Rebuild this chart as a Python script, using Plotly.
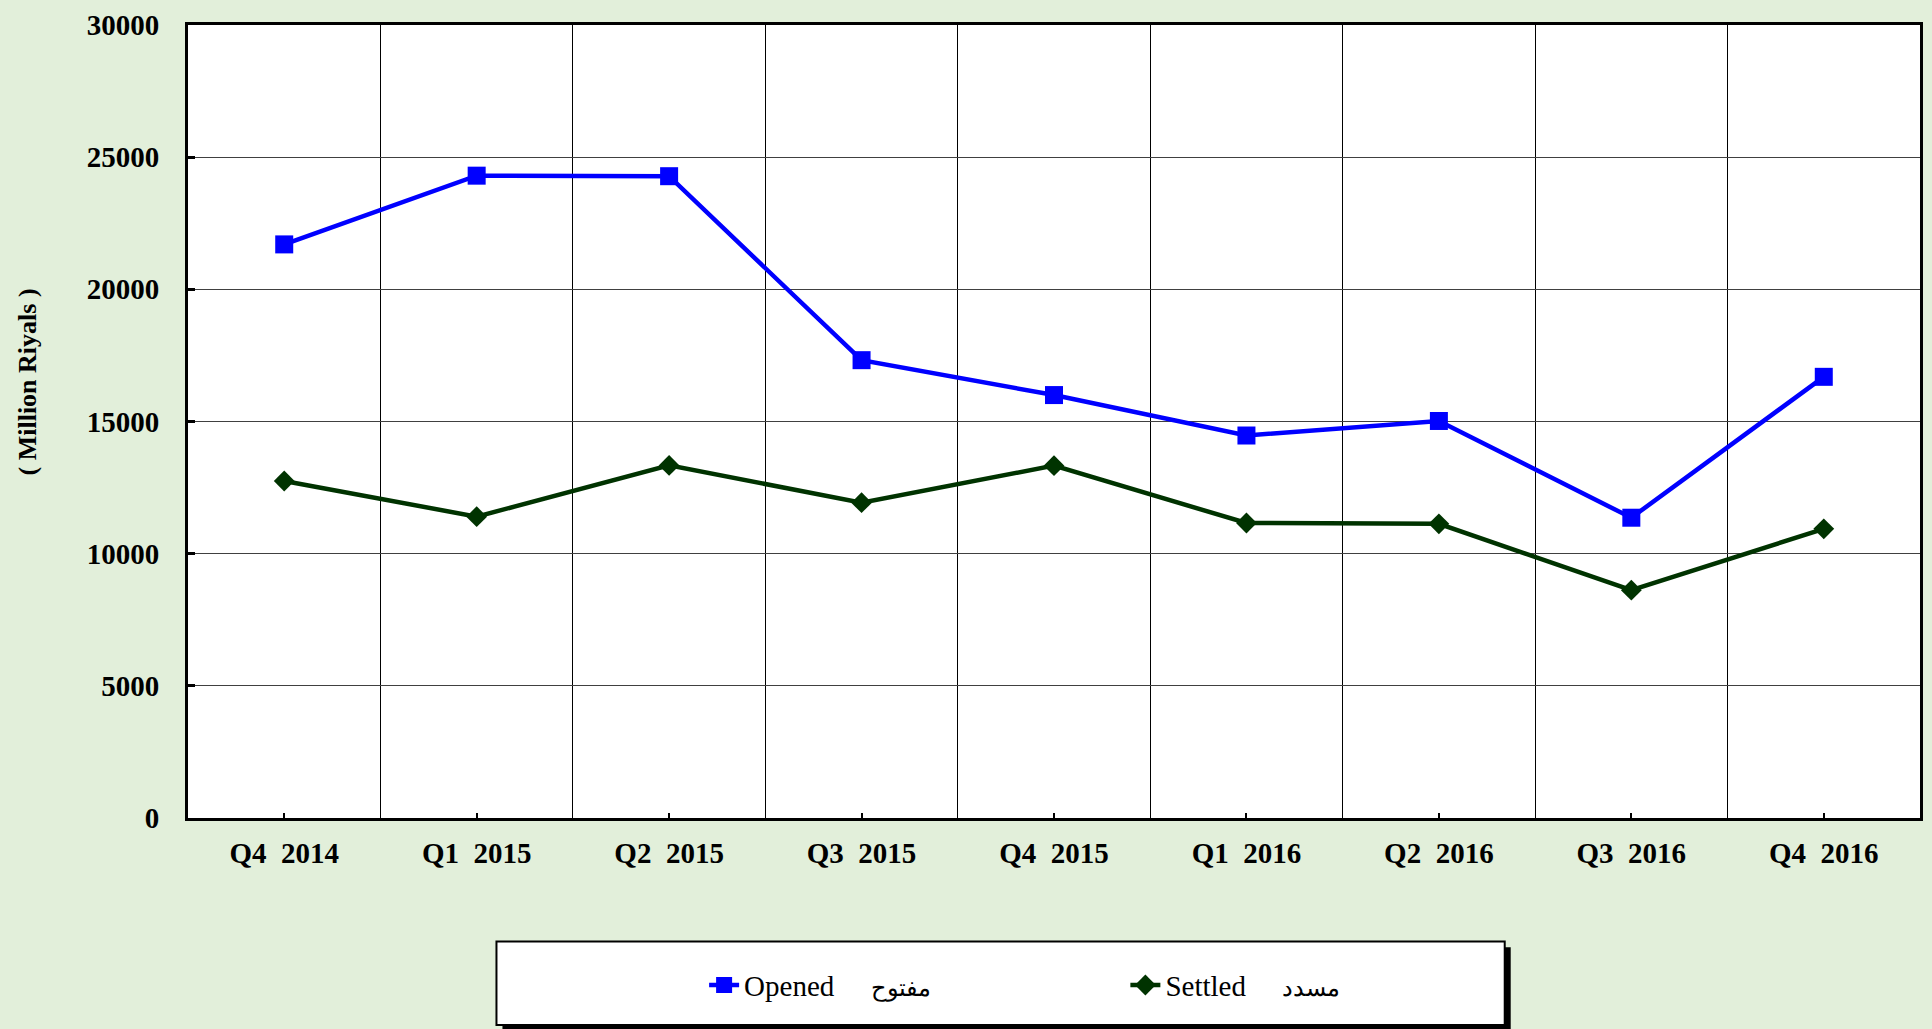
import plotly.graph_objects as go

# ---- data ----
categories = ["Q4  2014", "Q1  2015", "Q2  2015", "Q3  2015", "Q4  2015",
              "Q1  2016", "Q2  2016", "Q3  2016", "Q4  2016"]
opened = [21700, 24300, 24280, 17320, 16000, 14470, 15020, 11360, 16690]
settled = [12750, 11400, 13340, 11930, 13330, 11160, 11130, 8620, 10940]
opened_label = "Opened     <span style='font-size:24px'>مفتوح</span>"
settled_label = "Settled     <span style='font-size:24px'>مسدد</span>"
y_title = "( Million Riyals )"

W, H = 1932, 1029
L, R, T, B = 188, 9, 21, 211
pw, ph = W - L - R, H - T - B

def px_x(p):
    return (p - L) / pw

def px_y(p):
    return (H - B - p) / ph

x_idx = list(range(len(categories)))

fig = go.Figure()
fig.add_trace(go.Scatter(
    x=x_idx, y=opened, name=opened_label, mode="lines+markers",
    line=dict(color="#0000FF", width=4.5),
    marker=dict(symbol="square", size=18, color="#0000FF"),
    legend="legend",
))
fig.add_trace(go.Scatter(
    x=x_idx, y=settled, name=settled_label, mode="lines+markers",
    line=dict(color="#003300", width=4.5),
    marker=dict(symbol="diamond", size=16, color="#003300"),
    legend="legend2",
))

# legend frame with shadow
fig.add_shape(type="rect", xref="paper", yref="paper",
              x0=px_x(503), x1=px_x(1513), y0=px_y(1032), y1=px_y(948),
              fillcolor="black", line=dict(width=0))
fig.add_shape(type="rect", xref="paper", yref="paper",
              x0=px_x(497), x1=px_x(1507), y0=px_y(1026), y1=px_y(942),
              fillcolor="white", line=dict(color="black", width=2))

# y-axis title (placed off-centre as in the original)
fig.add_annotation(text=y_title, xref="paper", yref="paper",
                   x=px_x(27), y=px_y(380), xanchor="center", yanchor="middle",
                   textangle=-90, showarrow=False,
                   font=dict(family="Liberation Serif", size=26, color="black", weight="bold"))

tick_font = dict(family="Liberation Serif", size=29, color="black", weight="bold")
leg_font = dict(family="Liberation Serif", size=29, color="black")

fig.update_layout(
    width=W, height=H,
    margin=dict(l=L, r=R, t=T, b=B, pad=0),
    paper_bgcolor="#E2EFDA",
    plot_bgcolor="white",
    showlegend=True,
    legend=dict(orientation="h", x=px_x(705), y=px_y(986), xanchor="left", yanchor="middle",
                bgcolor="rgba(0,0,0,0)", font=leg_font, itemwidth=30),
    legend2=dict(orientation="h", x=px_x(1127), y=px_y(986), xanchor="left", yanchor="middle",
                 bgcolor="rgba(0,0,0,0)", font=leg_font, itemwidth=30),
    xaxis=dict(
        range=[-0.5, len(categories) - 0.5],
        tickmode="array", tickvals=x_idx, ticktext=categories,
        ticks="inside", ticklen=5, tickwidth=2, tickcolor="black",
        showgrid=False, zeroline=False,
        showline=True, linewidth=3, linecolor="black", mirror=True,
        tickfont=tick_font, ticklabelstandoff=7,
        minor=dict(tick0=0.5, dtick=1, showgrid=True, gridcolor="black", gridwidth=1, ticks=""),
    ),
    yaxis=dict(
        range=[0, 30000], dtick=5000, tickformat="d",
        ticks="inside", ticklen=7, tickwidth=3, tickcolor="black",
        showgrid=True, gridcolor="#404040", gridwidth=1, zeroline=False,
        showline=True, linewidth=3, linecolor="black", mirror=True,
        tickfont=tick_font, ticklabelstandoff=20,
    ),
)

fig.write_html(
    "out.html",
    config={"displayModeBar": False},
    post_script="document.body.style.margin='0';document.body.style.overflow='hidden';",
)
